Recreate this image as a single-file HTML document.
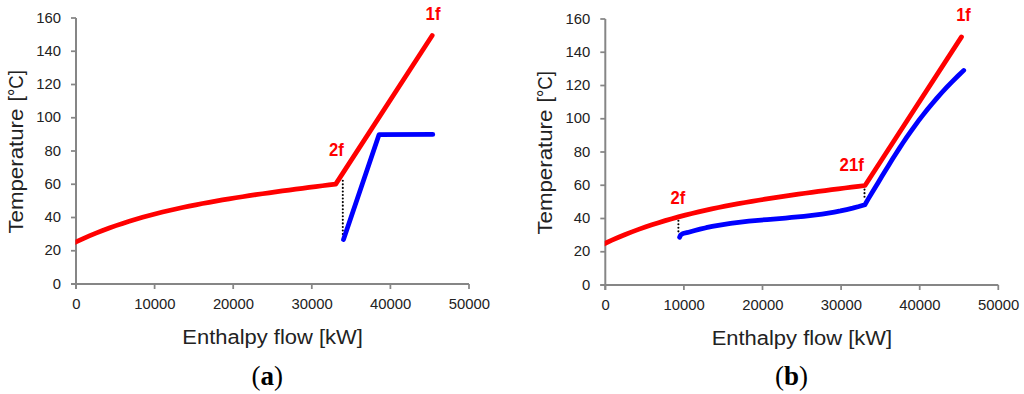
<!DOCTYPE html>
<html><head><meta charset="utf-8"><style>
html,body{margin:0;padding:0;background:#fff;}
svg{display:block;}
.t{font-family:"Liberation Sans", sans-serif;font-size:15.4px;fill:#222;}
.ti{font-family:"Liberation Sans", sans-serif;font-size:19.6px;fill:#222;}
.lb{font-family:"Liberation Sans", sans-serif;font-size:17.5px;font-weight:bold;fill:#f00;}
.cap{font-family:"Liberation Serif", serif;font-size:27px;font-weight:bold;fill:#000;}
</style></head><body>
<svg width="1024" height="394" viewBox="0 0 1024 394">
<rect width="1024" height="394" fill="#fff"/>
<g id="ax">
<line x1="76.0" y1="18.0" x2="76.0" y2="289.0" stroke="#868686" stroke-width="2"/>
<line x1="71.0" y1="284.0" x2="469.0" y2="284.0" stroke="#868686" stroke-width="2"/>
<line x1="71.0" y1="284.00" x2="76.0" y2="284.00" stroke="#868686" stroke-width="1.75"/>
<line x1="71.0" y1="250.75" x2="76.0" y2="250.75" stroke="#868686" stroke-width="1.75"/>
<line x1="71.0" y1="217.50" x2="76.0" y2="217.50" stroke="#868686" stroke-width="1.75"/>
<line x1="71.0" y1="184.25" x2="76.0" y2="184.25" stroke="#868686" stroke-width="1.75"/>
<line x1="71.0" y1="151.00" x2="76.0" y2="151.00" stroke="#868686" stroke-width="1.75"/>
<line x1="71.0" y1="117.75" x2="76.0" y2="117.75" stroke="#868686" stroke-width="1.75"/>
<line x1="71.0" y1="84.50" x2="76.0" y2="84.50" stroke="#868686" stroke-width="1.75"/>
<line x1="71.0" y1="51.25" x2="76.0" y2="51.25" stroke="#868686" stroke-width="1.75"/>
<line x1="71.0" y1="18.00" x2="76.0" y2="18.00" stroke="#868686" stroke-width="1.75"/>
<line x1="76.00" y1="284.0" x2="76.00" y2="289.0" stroke="#868686" stroke-width="1.75"/>
<line x1="154.60" y1="284.0" x2="154.60" y2="289.0" stroke="#868686" stroke-width="1.75"/>
<line x1="233.20" y1="284.0" x2="233.20" y2="289.0" stroke="#868686" stroke-width="1.75"/>
<line x1="311.80" y1="284.0" x2="311.80" y2="289.0" stroke="#868686" stroke-width="1.75"/>
<line x1="390.40" y1="284.0" x2="390.40" y2="289.0" stroke="#868686" stroke-width="1.75"/>
<line x1="469.00" y1="284.0" x2="469.00" y2="289.0" stroke="#868686" stroke-width="1.75"/>
<text x="61.0" y="288.50" text-anchor="end" class="t" textLength="8.25" lengthAdjust="spacingAndGlyphs">0</text>
<text x="61.0" y="255.25" text-anchor="end" class="t" textLength="16.50" lengthAdjust="spacingAndGlyphs">20</text>
<text x="61.0" y="222.00" text-anchor="end" class="t" textLength="16.50" lengthAdjust="spacingAndGlyphs">40</text>
<text x="61.0" y="188.75" text-anchor="end" class="t" textLength="16.50" lengthAdjust="spacingAndGlyphs">60</text>
<text x="61.0" y="155.50" text-anchor="end" class="t" textLength="16.50" lengthAdjust="spacingAndGlyphs">80</text>
<text x="61.0" y="122.25" text-anchor="end" class="t" textLength="24.75" lengthAdjust="spacingAndGlyphs">100</text>
<text x="61.0" y="89.00" text-anchor="end" class="t" textLength="24.75" lengthAdjust="spacingAndGlyphs">120</text>
<text x="61.0" y="55.75" text-anchor="end" class="t" textLength="24.75" lengthAdjust="spacingAndGlyphs">140</text>
<text x="61.0" y="22.50" text-anchor="end" class="t" textLength="24.75" lengthAdjust="spacingAndGlyphs">160</text>
<text x="76.30" y="309.20" text-anchor="middle" class="t" textLength="8.25" lengthAdjust="spacingAndGlyphs">0</text>
<text x="154.90" y="309.20" text-anchor="middle" class="t" textLength="41.25" lengthAdjust="spacingAndGlyphs">10000</text>
<text x="233.50" y="309.20" text-anchor="middle" class="t" textLength="41.25" lengthAdjust="spacingAndGlyphs">20000</text>
<text x="312.10" y="309.20" text-anchor="middle" class="t" textLength="41.25" lengthAdjust="spacingAndGlyphs">30000</text>
<text x="390.70" y="309.20" text-anchor="middle" class="t" textLength="41.25" lengthAdjust="spacingAndGlyphs">40000</text>
<text x="469.30" y="309.20" text-anchor="middle" class="t" textLength="41.25" lengthAdjust="spacingAndGlyphs">50000</text>
<text x="272.6" y="343.8" text-anchor="middle" class="ti" textLength="180.5" lengthAdjust="spacingAndGlyphs">Enthalpy flow [kW]</text>
<g transform="translate(23.0,233.6) rotate(-90)"><text x="0" y="0" class="ti" textLength="125" lengthAdjust="spacingAndGlyphs">Temperature</text><text x="132.4" y="0" class="ti" textLength="31" lengthAdjust="spacingAndGlyphs">[°C]</text></g>
</g>
<use href="#ax" transform="translate(529.3,1)"/>
<!-- panel a data -->
<line x1="342.8" y1="180.8" x2="342.8" y2="234.5" stroke="#000" stroke-width="2.1" stroke-linecap="round" stroke-dasharray="0 3.55"/>
<clipPath id="cp"><rect x="75.4" y="0" width="420" height="300"/></clipPath>
<path id="rd" clip-path="url(#cp)" d="M73.00,243.30 L76.00,241.86 L82.66,238.79 L89.32,235.87 L95.98,233.11 L102.64,230.48 L109.29,227.99 L115.95,225.63 L122.61,223.38 L129.27,221.25 L135.93,219.23 L142.59,217.30 L149.25,215.47 L155.91,213.73 L162.57,212.06 L169.23,210.48 L175.88,208.96 L182.54,207.52 L189.20,206.13 L195.86,204.80 L202.52,203.52 L209.18,202.29 L215.84,201.11 L222.50,199.96 L229.16,198.85 L235.82,197.78 L242.47,196.73 L249.13,195.71 L255.79,194.72 L262.45,193.75 L269.11,192.80 L275.77,191.87 L282.43,190.96 L289.09,190.06 L295.75,189.17 L302.41,188.30 L309.06,187.44 L315.72,186.59 L322.38,185.75 L329.04,184.92 L335.70,184.10 L432.20,35.50" fill="none" stroke="#f00" stroke-width="4.75" stroke-linecap="round" stroke-linejoin="round"/>
<path d="M343.5,239.5 L379,134.7 L432.8,134.4" fill="none" stroke="#00f" stroke-width="4.75" stroke-linecap="round" stroke-linejoin="round"/>
<text x="425.6" y="20.3" class="lb" textLength="14.9" lengthAdjust="spacingAndGlyphs">1f</text>
<text x="329" y="155.7" class="lb" textLength="14.8" lengthAdjust="spacingAndGlyphs">2f</text>
<!-- panel b data -->
<line x1="678.4" y1="220.7" x2="678.4" y2="231.5" stroke="#000" stroke-width="2.1" stroke-linecap="round" stroke-dasharray="0 3.55"/>
<line x1="864.5" y1="189.6" x2="864.5" y2="196.9" stroke="#000" stroke-width="2.1" stroke-linecap="round" stroke-dasharray="0 3.55"/>
<use href="#rd" transform="translate(529.3,1.4)"/>
<path d="M679.60,237.30 L680.60,235.00 L683.00,233.50 L687.80,232.42 L693.91,230.68 L700.01,229.11 L706.12,227.69 L712.23,226.43 L718.33,225.30 L724.44,224.29 L730.55,223.39 L736.66,222.58 L742.76,221.86 L748.87,221.21 L754.98,220.61 L761.08,220.06 L767.19,219.53 L773.30,219.03 L779.40,218.53 L785.51,218.02 L791.62,217.48 L797.72,216.92 L803.83,216.30 L809.94,215.63 L816.04,214.88 L822.15,214.05 L828.26,213.11 L834.37,212.07 L840.47,210.90 L846.58,209.58 L852.69,208.12 L858.79,206.49 L864.90,204.69 L868.28,198.91 L871.66,193.32 L875.02,187.74 L878.39,182.15 L881.76,176.56 L885.15,170.97 L888.57,165.39 L892.04,159.80 L895.57,154.21 L899.16,148.62 L902.84,143.04 L906.62,137.45 L910.50,131.86 L914.49,126.28 L918.62,120.69 L922.90,115.10 L927.33,109.51 L931.93,103.93 L936.70,98.34 L941.67,92.75 L946.85,87.16 L952.24,81.58 L957.87,75.99 L963.73,70.40" fill="none" stroke="#00f" stroke-width="4.75" stroke-linecap="round" stroke-linejoin="round"/>
<text x="956.2" y="21.2" class="lb" textLength="14.6" lengthAdjust="spacingAndGlyphs">1f</text>
<text x="670.6" y="203.8" class="lb" textLength="14.8" lengthAdjust="spacingAndGlyphs">2f</text>
<text x="839.6" y="170.9" class="lb" textLength="24.3" lengthAdjust="spacingAndGlyphs">21f</text>
<text x="267.2" y="385" text-anchor="middle" class="cap"><tspan font-weight="normal">(</tspan>a<tspan font-weight="normal">)</tspan></text>
<text x="791.5" y="385" text-anchor="middle" class="cap"><tspan font-weight="normal">(</tspan>b<tspan font-weight="normal">)</tspan></text>
</svg>
</body></html>
